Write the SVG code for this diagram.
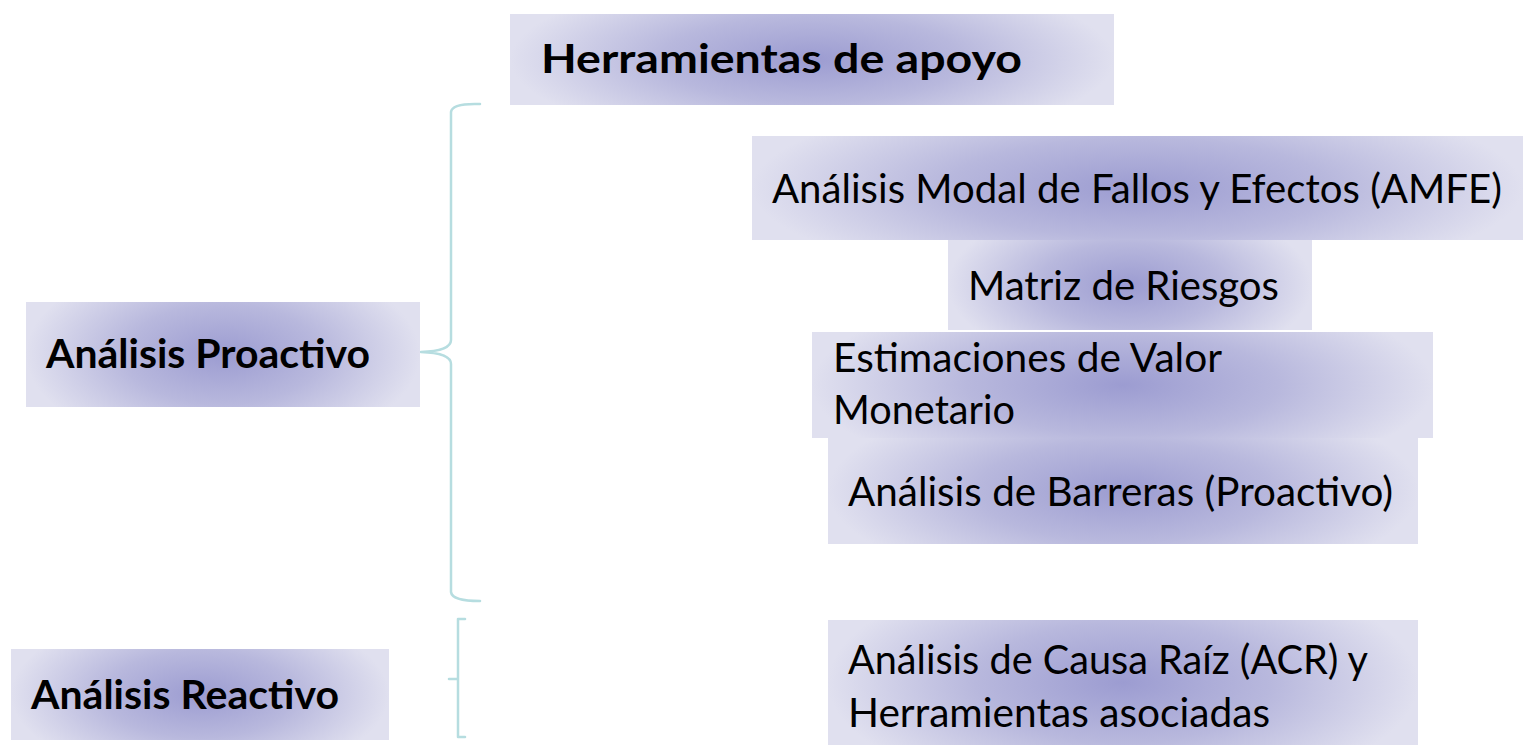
<svg xmlns="http://www.w3.org/2000/svg" width="1524" height="746" viewBox="0 0 1524 746">
<defs>
<radialGradient id="g" cx="0.5" cy="0.5" r="0.5" gradientTransform="translate(0.5,0.5) scale(1,1.9) translate(-0.5,-0.5)">
<stop offset="0" stop-color="#9c9cd1"/>
<stop offset="0.5" stop-color="#b8b8dd"/>
<stop offset="1" stop-color="#e0e0ef"/>
</radialGradient>
</defs>
<style>
.box{fill:url(#g);}
.t{font-family:Lato,"Open Sans",sans-serif;font-size:40px;fill:#000;}
.b{font-weight:bold;}
.br{fill:none;stroke:#b6dde0;stroke-width:2.5;stroke-linecap:round;stroke-linejoin:round;}
</style>
<rect width="1524" height="746" fill="#fff"/>
<g id="connectors">
<path class="br" d="M480,104 Q452,103 451,112 L451,340 Q451,351 421,352 Q451,353 451,364 L451,592 Q452,601 480,601"/>
<path class="br" d="M465,619 L458,619 L458,737 L465,737 M449,679 L458,679"/>
</g>
<g id="herramientas">
<rect class="box" x="510" y="14" width="604" height="91"/>
<text class="t b" x="541" y="73" textLength="481" lengthAdjust="spacingAndGlyphs">Herramientas de apoyo</text>
</g>
<g id="amfe">
<rect class="box" x="752" y="136" width="771" height="104"/>
<text class="t" x="772" y="203" textLength="730" lengthAdjust="spacingAndGlyphs">Análisis Modal de Fallos y Efectos (AMFE)</text>
</g>
<g id="matriz">
<rect class="box" x="948" y="240" width="364" height="90"/>
<text class="t" x="968" y="300" textLength="311" lengthAdjust="spacingAndGlyphs">Matriz de Riesgos</text>
</g>
<g id="estimaciones">
<rect class="box" x="812" y="332" width="621" height="106"/>
<text class="t" x="833" y="372" textLength="389" lengthAdjust="spacingAndGlyphs">Estimaciones de Valor</text>
<text class="t" x="833" y="424" textLength="182" lengthAdjust="spacingAndGlyphs">Monetario</text>
</g>
<g id="barreras">
<rect class="box" x="828" y="438" width="590" height="106"/>
<text class="t" x="848" y="506" textLength="545" lengthAdjust="spacingAndGlyphs">Análisis de Barreras (Proactivo)</text>
</g>
<g id="acr">
<rect class="box" x="828" y="620" width="590" height="125"/>
<text class="t" x="848" y="674" textLength="520" lengthAdjust="spacingAndGlyphs">Análisis de Causa Raíz (ACR) y</text>
<text class="t" x="848" y="727" textLength="422" lengthAdjust="spacingAndGlyphs">Herramientas asociadas</text>
</g>
<g id="proactivo">
<rect class="box" x="26" y="302" width="394" height="105"/>
<text class="t b" x="46" y="368" textLength="324" lengthAdjust="spacingAndGlyphs">Análisis Proactivo</text>
</g>
<g id="reactivo">
<rect class="box" x="11" y="649" width="378" height="91"/>
<text class="t b" x="31" y="709" textLength="308" lengthAdjust="spacingAndGlyphs">Análisis Reactivo</text>
</g>
</svg>
